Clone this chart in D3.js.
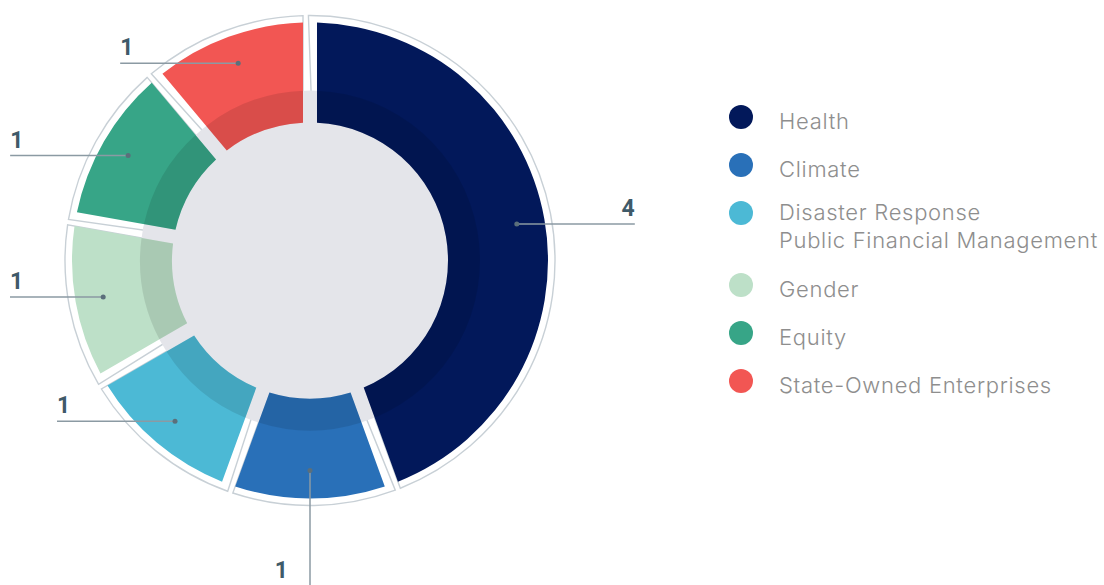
<!DOCTYPE html>
<html>
<head>
<meta charset="utf-8">
<script src="https://cdn.jsdelivr.net/npm/d3@7"></script>
<style>
  body { margin: 0; background: #fff; }
  svg { display: block; }
</style>
</head>
<body>
<div id="donutContainer"></div>
<script>
var categories = ["Health", "Climate", "Disaster Response\nPublic Financial Management", "Gender", "Equity", "State-Owned Enterprises"];
var values = [4, 1, 1, 1, 1, 1];
var colors = ["#02185a", "#2970b8", "#4cb9d5", "#bde0c8", "#37a587", "#f25653"];

var width = 1104,
    height = 585,
    cx = 310,
    cy = 260.5,
    outerR = 238,
    innerR = 138,
    ringR = 170,
    frameR = 245;

var svg = d3.select('#donutContainer').append("svg")
    .attr("width", width)
    .attr("height", height);

var g = svg.append("g")
    .attr("transform", "translate(" + cx + "," + cy + ")");

var pie = d3.pie()
    .sort(null)
    .value(function(d) { return d; });
var arcs = pie(values);

// slices, 14px constant gaps
var arc = d3.arc()
    .innerRadius(innerR)
    .outerRadius(outerR)
    .padAngle(0.14)
    .padRadius(100);

var ring = d3.arc()
    .innerRadius(innerR)
    .outerRadius(ringR)
    .padAngle(0.14)
    .padRadius(100);

// thin frame behind each slice, pushed back into the gap before it
var frame = d3.arc()
    .innerRadius(165)
    .outerRadius(frameR)
    .padAngle(0.14)
    .padRadius(100);

g.selectAll(".frame")
    .data(arcs)
    .enter().append("path")
    .attr("class", "frame")
    .attr("d", function(d) {
        return frame({startAngle: d.startAngle - 0.035, endAngle: d.endAngle});
    })
    .style("fill", "#fff")
    .style("stroke", "#c8d0d6")
    .style("stroke-width", 1.4);

g.append("circle")
    .attr("r", ringR)
    .style("fill", "#e4e5ea");

g.selectAll(".slice")
    .data(arcs)
    .enter().append("path")
    .attr("class", "slice")
    .attr("d", arc)
    .style("fill", function(d, i) { return colors[i]; });

g.selectAll(".ring")
    .data(arcs)
    .enter().append("path")
    .attr("class", "ring")
    .attr("d", ring)
    .style("fill", "#000")
    .style("fill-opacity", 0.1);

// leader lines + value labels
var labelArc = d3.arc().innerRadius(210).outerRadius(210);
var lead = 118;
var minX = 10 - cx, maxY = height - cy;

var lab = g.selectAll(".lab")
    .data(arcs)
    .enter().append("g")
    .attr("class", "lab");

lab.each(function(d) {
    var sel = d3.select(this);
    var c = labelArc.centroid(d);
    var mid = (d.startAngle + d.endAngle) / 2;
    var x2 = c[0], y2 = c[1], tx, ty, anchor;
    if (Math.abs(mid - Math.PI) < 0.3) {
        y2 = Math.min(c[1] + lead, maxY);
        tx = x2 - 22; ty = y2 - 7; anchor = "end";
    } else if (mid < Math.PI) {
        x2 = c[0] + lead;
        tx = x2; ty = y2 - 8; anchor = "end";
    } else {
        x2 = Math.max(c[0] - lead, minX);
        tx = x2; ty = y2 - 8; anchor = "start";
    }
    sel.append("line")
        .attr("x1", c[0]).attr("y1", c[1])
        .attr("x2", x2).attr("y2", y2)
        .style("stroke", "#8b9aa3")
        .style("stroke-width", 1.5);
    sel.append("circle")
        .attr("cx", c[0]).attr("cy", c[1])
        .attr("r", 2.5)
        .style("fill", "#5b6f7b");
    sel.append("text")
        .attr("x", tx).attr("y", ty)
        .style("text-anchor", anchor)
        .style("font-family", "Roboto, 'Liberation Sans', sans-serif")
        .style("font-weight", 700)
        .style("font-size", "23px")
        .style("fill", "#3f5a69")
        .text(d.data);
});

// legend
var legend = svg.append("g").attr("transform", "translate(741,0)");
var ly = 117;
categories.forEach(function(name, i) {
    var lines = name.split("\n");
    var item = legend.append("g");
    item.append("circle")
        .attr("cx", 0).attr("cy", ly)
        .attr("r", 12)
        .style("fill", colors[i]);
    var t = item.append("text")
        .attr("x", 38)
        .attr("y", ly + 12 - (lines.length - 1) * 5.5)
        .style("font-family", "Inter, Roboto, sans-serif")
        .style("font-weight", 300)
        .style("font-size", "22px")
        .style("letter-spacing", "0.7px")
        .style("fill", "#8e8e8e");
    lines.forEach(function(l, j) {
        t.append("tspan")
            .attr("x", 38)
            .attr("dy", j === 0 ? 0 : 28)
            .text(l);
    });
    ly += 48 + (lines.length - 1) * 24;
});
</script>
</body>
</html>
